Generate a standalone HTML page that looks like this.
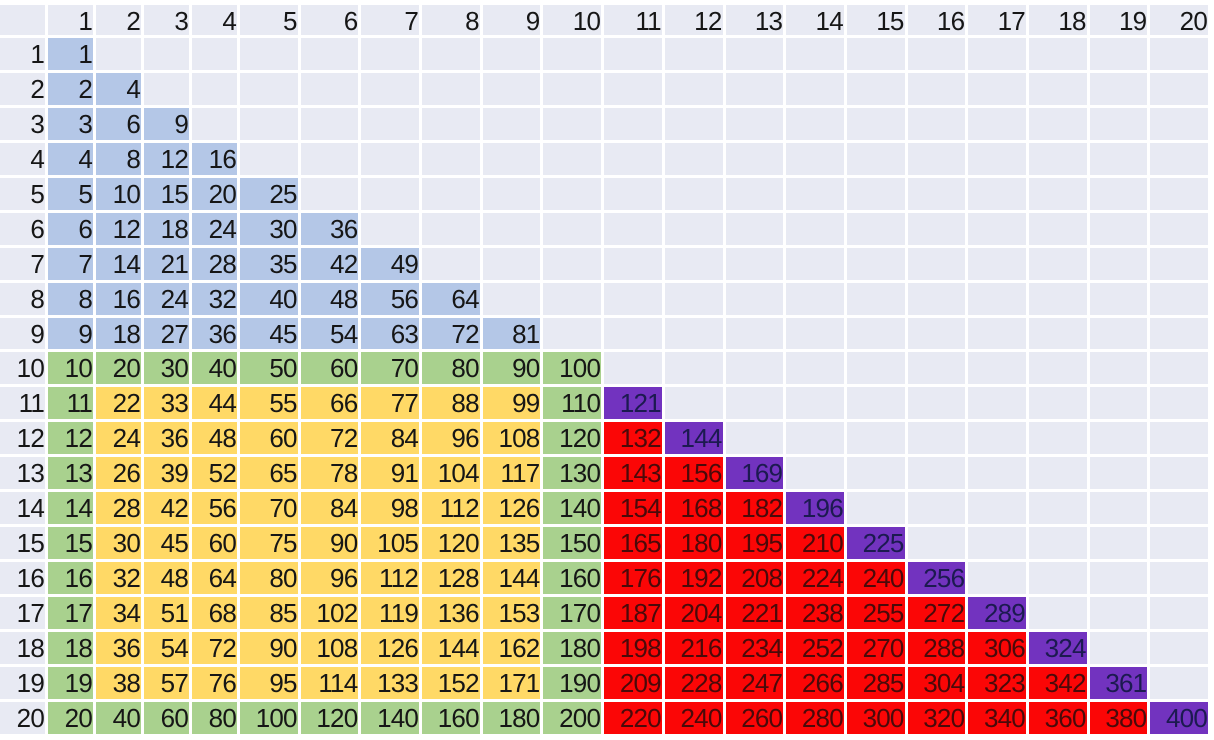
<!DOCTYPE html>
<html><head><meta charset="utf-8">
<style>
html,body{margin:0;padding:0;background:#fff;width:1214px;height:740px;overflow:hidden;}
.t{position:absolute;left:0;top:5px;display:grid;
grid-template-columns:45px repeat(4,45px) repeat(16,57.7px);
grid-template-rows:30px repeat(20,31.95px);
column-gap:3px;row-gap:3px;
font-family:"Liberation Sans",sans-serif;font-size:26px;letter-spacing:-0.8px;color:#161616;}
.t>div{background:#e8eaf3;text-align:right;line-height:32px;padding-right:1px;white-space:nowrap;overflow:visible;}
.t>.b{background:#b4c7e7;}
.t>.g{background:#a9d18e;}
.t>.y{background:#ffd966;}
.t>.r{background:#fb0606;color:#4a0a0a;}
.t>.p{background:#7233bf;color:#1c1a50;}
.t>.h{background:#e8eaf3;}
</style></head><body>
<div class="t">
<div class="h"></div><div class="h">1</div><div class="h">2</div><div class="h">3</div><div class="h">4</div><div class="h">5</div><div class="h">6</div><div class="h">7</div><div class="h">8</div><div class="h">9</div><div class="h">10</div><div class="h">11</div><div class="h">12</div><div class="h">13</div><div class="h">14</div><div class="h">15</div><div class="h">16</div><div class="h">17</div><div class="h">18</div><div class="h">19</div><div class="h">20</div>

<div class="h">1</div><div class="b">1</div><div></div><div></div><div></div><div></div><div></div><div></div><div></div><div></div><div></div><div></div><div></div><div></div><div></div><div></div><div></div><div></div><div></div><div></div><div></div>

<div class="h">2</div><div class="b">2</div><div class="b">4</div><div></div><div></div><div></div><div></div><div></div><div></div><div></div><div></div><div></div><div></div><div></div><div></div><div></div><div></div><div></div><div></div><div></div><div></div>

<div class="h">3</div><div class="b">3</div><div class="b">6</div><div class="b">9</div><div></div><div></div><div></div><div></div><div></div><div></div><div></div><div></div><div></div><div></div><div></div><div></div><div></div><div></div><div></div><div></div><div></div>

<div class="h">4</div><div class="b">4</div><div class="b">8</div><div class="b">12</div><div class="b">16</div><div></div><div></div><div></div><div></div><div></div><div></div><div></div><div></div><div></div><div></div><div></div><div></div><div></div><div></div><div></div><div></div>

<div class="h">5</div><div class="b">5</div><div class="b">10</div><div class="b">15</div><div class="b">20</div><div class="b">25</div><div></div><div></div><div></div><div></div><div></div><div></div><div></div><div></div><div></div><div></div><div></div><div></div><div></div><div></div><div></div>

<div class="h">6</div><div class="b">6</div><div class="b">12</div><div class="b">18</div><div class="b">24</div><div class="b">30</div><div class="b">36</div><div></div><div></div><div></div><div></div><div></div><div></div><div></div><div></div><div></div><div></div><div></div><div></div><div></div><div></div>

<div class="h">7</div><div class="b">7</div><div class="b">14</div><div class="b">21</div><div class="b">28</div><div class="b">35</div><div class="b">42</div><div class="b">49</div><div></div><div></div><div></div><div></div><div></div><div></div><div></div><div></div><div></div><div></div><div></div><div></div><div></div>

<div class="h">8</div><div class="b">8</div><div class="b">16</div><div class="b">24</div><div class="b">32</div><div class="b">40</div><div class="b">48</div><div class="b">56</div><div class="b">64</div><div></div><div></div><div></div><div></div><div></div><div></div><div></div><div></div><div></div><div></div><div></div><div></div>

<div class="h">9</div><div class="b">9</div><div class="b">18</div><div class="b">27</div><div class="b">36</div><div class="b">45</div><div class="b">54</div><div class="b">63</div><div class="b">72</div><div class="b">81</div><div></div><div></div><div></div><div></div><div></div><div></div><div></div><div></div><div></div><div></div><div></div>

<div class="h">10</div><div class="g">10</div><div class="g">20</div><div class="g">30</div><div class="g">40</div><div class="g">50</div><div class="g">60</div><div class="g">70</div><div class="g">80</div><div class="g">90</div><div class="g">100</div><div></div><div></div><div></div><div></div><div></div><div></div><div></div><div></div><div></div><div></div>

<div class="h">11</div><div class="g">11</div><div class="y">22</div><div class="y">33</div><div class="y">44</div><div class="y">55</div><div class="y">66</div><div class="y">77</div><div class="y">88</div><div class="y">99</div><div class="g">110</div><div class="p">121</div><div></div><div></div><div></div><div></div><div></div><div></div><div></div><div></div><div></div>

<div class="h">12</div><div class="g">12</div><div class="y">24</div><div class="y">36</div><div class="y">48</div><div class="y">60</div><div class="y">72</div><div class="y">84</div><div class="y">96</div><div class="y">108</div><div class="g">120</div><div class="r">132</div><div class="p">144</div><div></div><div></div><div></div><div></div><div></div><div></div><div></div><div></div>

<div class="h">13</div><div class="g">13</div><div class="y">26</div><div class="y">39</div><div class="y">52</div><div class="y">65</div><div class="y">78</div><div class="y">91</div><div class="y">104</div><div class="y">117</div><div class="g">130</div><div class="r">143</div><div class="r">156</div><div class="p">169</div><div></div><div></div><div></div><div></div><div></div><div></div><div></div>

<div class="h">14</div><div class="g">14</div><div class="y">28</div><div class="y">42</div><div class="y">56</div><div class="y">70</div><div class="y">84</div><div class="y">98</div><div class="y">112</div><div class="y">126</div><div class="g">140</div><div class="r">154</div><div class="r">168</div><div class="r">182</div><div class="p">196</div><div></div><div></div><div></div><div></div><div></div><div></div>

<div class="h">15</div><div class="g">15</div><div class="y">30</div><div class="y">45</div><div class="y">60</div><div class="y">75</div><div class="y">90</div><div class="y">105</div><div class="y">120</div><div class="y">135</div><div class="g">150</div><div class="r">165</div><div class="r">180</div><div class="r">195</div><div class="r">210</div><div class="p">225</div><div></div><div></div><div></div><div></div><div></div>

<div class="h">16</div><div class="g">16</div><div class="y">32</div><div class="y">48</div><div class="y">64</div><div class="y">80</div><div class="y">96</div><div class="y">112</div><div class="y">128</div><div class="y">144</div><div class="g">160</div><div class="r">176</div><div class="r">192</div><div class="r">208</div><div class="r">224</div><div class="r">240</div><div class="p">256</div><div></div><div></div><div></div><div></div>

<div class="h">17</div><div class="g">17</div><div class="y">34</div><div class="y">51</div><div class="y">68</div><div class="y">85</div><div class="y">102</div><div class="y">119</div><div class="y">136</div><div class="y">153</div><div class="g">170</div><div class="r">187</div><div class="r">204</div><div class="r">221</div><div class="r">238</div><div class="r">255</div><div class="r">272</div><div class="p">289</div><div></div><div></div><div></div>

<div class="h">18</div><div class="g">18</div><div class="y">36</div><div class="y">54</div><div class="y">72</div><div class="y">90</div><div class="y">108</div><div class="y">126</div><div class="y">144</div><div class="y">162</div><div class="g">180</div><div class="r">198</div><div class="r">216</div><div class="r">234</div><div class="r">252</div><div class="r">270</div><div class="r">288</div><div class="r">306</div><div class="p">324</div><div></div><div></div>

<div class="h">19</div><div class="g">19</div><div class="y">38</div><div class="y">57</div><div class="y">76</div><div class="y">95</div><div class="y">114</div><div class="y">133</div><div class="y">152</div><div class="y">171</div><div class="g">190</div><div class="r">209</div><div class="r">228</div><div class="r">247</div><div class="r">266</div><div class="r">285</div><div class="r">304</div><div class="r">323</div><div class="r">342</div><div class="p">361</div><div></div>

<div class="h">20</div><div class="g">20</div><div class="g">40</div><div class="g">60</div><div class="g">80</div><div class="g">100</div><div class="g">120</div><div class="g">140</div><div class="g">160</div><div class="g">180</div><div class="g">200</div><div class="r">220</div><div class="r">240</div><div class="r">260</div><div class="r">280</div><div class="r">300</div><div class="r">320</div><div class="r">340</div><div class="r">360</div><div class="r">380</div><div class="p">400</div>
</div>
</body></html>
